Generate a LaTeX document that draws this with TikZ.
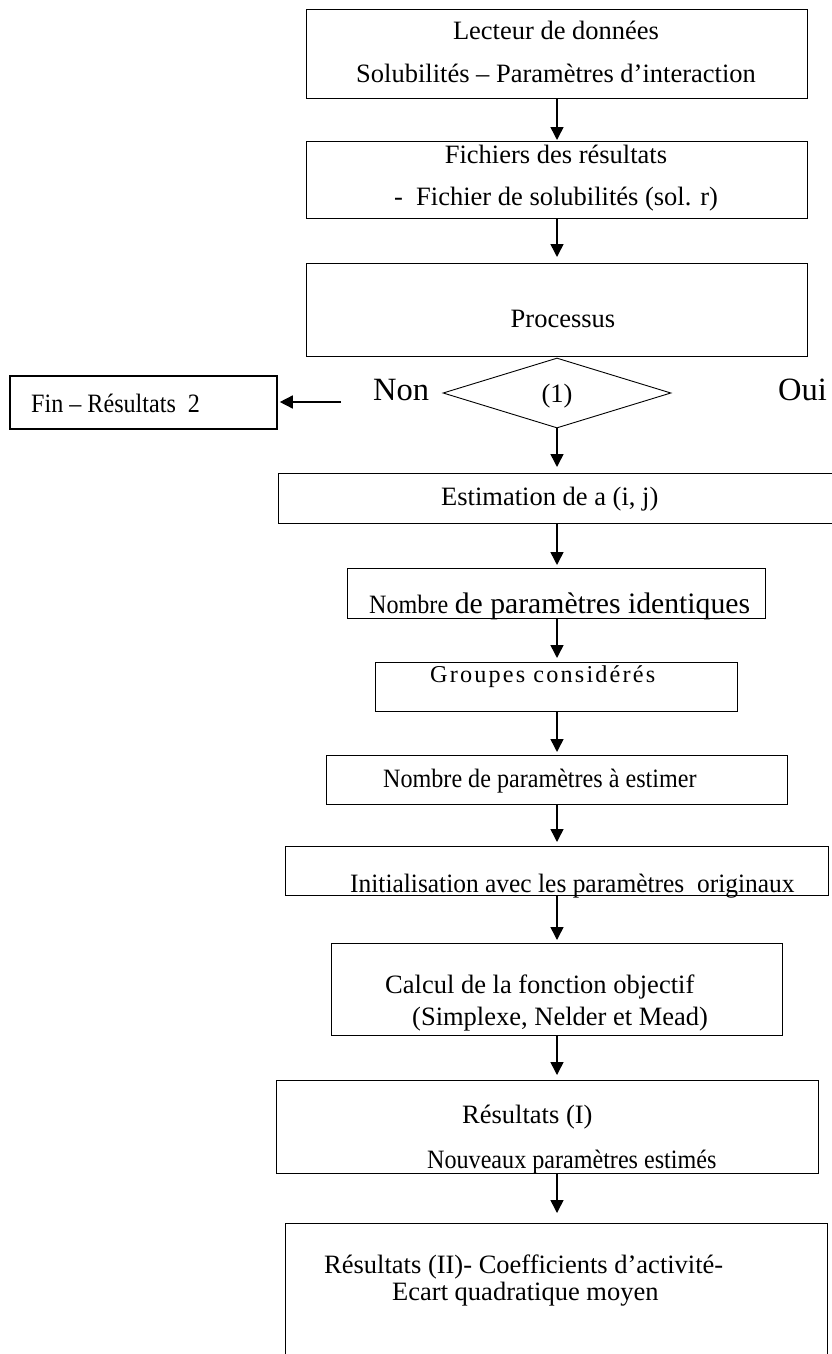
\documentclass[tikz,border=0pt]{standalone}
\usepackage{fontspec}
\setmainfont{Liberation Serif}
\newfontfamily\condfont[FakeStretch=0.91]{Liberation Serif}
\newfontfamily\semicondfont[FakeStretch=0.96]{Liberation Serif}
\newfontfamily\spacedfont[LetterSpace=9]{Liberation Serif}
\usetikzlibrary{arrows.meta,shapes.geometric}
\begin{document}
\begin{tikzpicture}[x=1pt,y=-1pt,
  box/.style={draw, line width=0.9pt, rectangle, inner sep=0pt, anchor=north west},
  thickbox/.style={box, line width=1.8pt},
  txt/.style={inner sep=0pt, anchor=base, font=\fontsize{26.5}{32}\selectfont},
  ltxt/.style={txt, anchor=base west},
  arr/.style={-{Triangle[width=13pt,length=13pt]}, line width=1.5pt}
]
\useasboundingbox (0,0) rectangle (831,1354);
\coordinate (axis) at (557,0);

% boxes
\node[box, minimum width=501pt, minimum height=89pt] (b1) at (306,9) {};
\node[box, minimum width=501pt, minimum height=77pt] (b2) at (306,141) {};
\node[box, minimum width=501pt, minimum height=93pt] (b3) at (306,263) {};
\node[diamond, draw, line width=0.9pt, inner sep=0pt, minimum width=228pt, minimum height=70pt] (dec) at (557,393) {};
\node[thickbox, minimum width=267pt, minimum height=53pt] (fin) at (9,375) {};
\node[box, minimum width=570pt, minimum height=50pt] (est) at (278,473) {};
\node[box, minimum width=418pt, minimum height=50pt] (ident) at (347,568) {};
\node[box, minimum width=362pt, minimum height=49pt] (grp) at (375,662) {};
\node[box, minimum width=461pt, minimum height=49pt] (nest) at (326,755) {};
\node[box, minimum width=543pt, minimum height=49pt] (init) at (285,846) {};
\node[box, minimum width=451pt, minimum height=92pt] (calc) at (331,943) {};
\node[box, minimum width=542pt, minimum height=93pt] (res1) at (276,1080) {};
\node[box, minimum width=542pt, minimum height=160pt] (res2) at (285,1223) {};

% texts
\node[txt] (t1a) at (556,40) {Lecteur de données};
\node[txt] (t1b) at (556,82) {Solubilités – Paramètres d’interaction};
\node[txt] (t2a) at (556,163) {Fichiers des résultats};
\node[txt] (t2b) at (556,205) {-\ \ Fichier de solubilités (sol. r)};
\node[txt] (t3) at (563,327) {Processus};
\node[ltxt, font=\fontsize{32.5}{38}\selectfont] (tnon) at (373,400) {Non};
\node[txt] (tone) at (557,402) {(1)};
\node[ltxt, font=\fontsize{32.5}{38}\selectfont] (toui) at (778,400) {Oui};
\node[ltxt, font=\fontsize{26.5}{32}\condfont] (tfin) at (31,412) {Fin – Résultats\ \ 2};
\node[ltxt] (test) at (441,505) {Estimation de a (i, j)};
\node[ltxt] (tident) at (369,613) {{\condfont Nombre} {\fontsize{29.7}{34}\selectfont de paramètres identiques}};
\node[ltxt, font=\fontsize{24.2}{30}\spacedfont] (tgrp) at (430,682) {Groupes considérés};
\node[ltxt, font=\fontsize{26.5}{32}\condfont] (tnest) at (383,787) {Nombre de paramètres à estimer};
\node[ltxt, font=\fontsize{26.5}{32}\semicondfont] (tinit) at (350,892) {Initialisation avec les paramètres\ \ originaux};
\node[ltxt] (tcalca) at (385,993) {Calcul de la fonction objectif};
\node[ltxt] (tcalcb) at (412,1025) {(Simplexe, Nelder et Mead)};
\node[ltxt] (tres1a) at (462,1123) {Résultats (I)};
\node[ltxt, font=\fontsize{26.5}{32}\condfont] (tres1b) at (427,1168) {Nouveaux paramètres estimés};
\node[ltxt] (tres2a) at (324,1273) {Résultats (II)- Coefficients d’activité-};
\node[ltxt] (tres2b) at (392,1300) {Ecart quadratique moyen};

% connectors
\coordinate (nonpt) at (341,402);
\draw[arr, shorten >=1pt] (b1.south -| axis) -- (b2.north -| axis);
\draw[arr, shorten >=6pt] (b2.south -| axis) -- (b3.north -| axis);
\draw[arr, shorten >=2pt] (nonpt) -- (fin.east |- nonpt);
\draw[arr, shorten >=6pt] (dec.south) -- (est.north -| axis);
\draw[arr, shorten >=3pt] (est.south -| axis) -- (ident.north -| axis);
\draw[arr, shorten >=4pt] (ident.south -| axis) -- (grp.north -| axis);
\draw[arr, shorten >=3pt] (grp.south -| axis) -- (nest.north -| axis);
\draw[arr, shorten >=4pt] (nest.south -| axis) -- (init.north -| axis);
\draw[arr, shorten >=3pt] (init.south -| axis) -- (calc.north -| axis);
\draw[arr, shorten >=5pt] (calc.south -| axis) -- (res1.north -| axis);
\draw[arr, shorten >=10pt] (res1.south -| axis) -- (res2.north -| axis);
\end{tikzpicture}
\end{document}
